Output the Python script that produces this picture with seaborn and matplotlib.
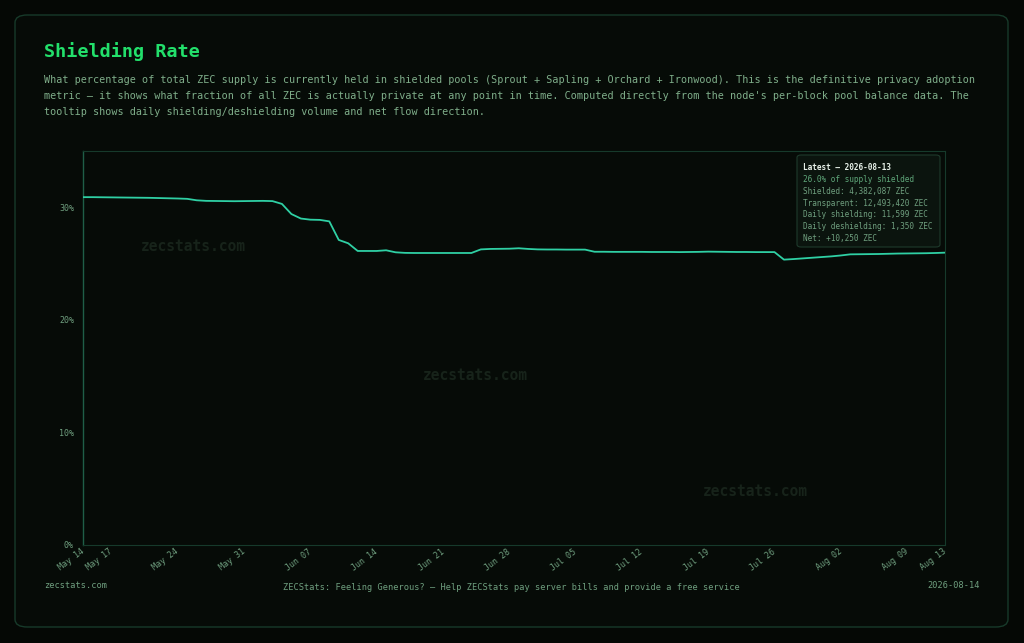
import pandas as pd
import matplotlib.pyplot as plt
import seaborn as sns
from matplotlib.patches import FancyBboxPatch

# --- data ---
start_date = "2026-05-14"
shielded_pct = [
    30.90, 30.90, 30.89, 30.88, 30.87, 30.86, 30.85, 30.84, 30.82, 30.80, 30.78, 30.75,
    30.62, 30.57, 30.56, 30.55, 30.54, 30.55, 30.56, 30.57, 30.55,
    30.30, 29.40, 29.00, 28.90, 28.88, 28.75,
    27.10, 26.80, 26.12, 26.12, 26.12, 26.18,
    26.00, 25.95, 25.94, 25.94, 25.94, 25.94, 25.94, 25.94, 25.94,
    26.26, 26.30, 26.31, 26.32, 26.36, 26.30, 26.26, 26.25, 26.25, 26.24, 26.24, 26.24,
    26.05, 26.05, 26.04, 26.04, 26.04, 26.04, 26.03, 26.03, 26.03, 26.02,
    26.03, 26.04, 26.06, 26.05, 26.04, 26.03, 26.03, 26.02, 26.02, 26.02,
    25.35, 25.40, 25.46, 25.52, 25.58, 25.64, 25.72, 25.82,
    25.83, 25.84, 25.85, 25.87, 25.89, 25.90, 25.91, 25.92, 25.94, 25.97,
]
tick_dates = ["2026-05-14", "2026-05-17", "2026-05-24", "2026-05-31", "2026-06-07",
              "2026-06-14", "2026-06-21", "2026-06-28", "2026-07-05", "2026-07-12",
              "2026-07-19", "2026-07-26", "2026-08-02", "2026-08-09", "2026-08-13"]
tick_labels = ["May 14", "May 17", "May 24", "May 31", "Jun 07", "Jun 14", "Jun 21",
               "Jun 28", "Jul 05", "Jul 12", "Jul 19", "Jul 26", "Aug 02", "Aug 09", "Aug 13"]
y_ticks = [0, 10, 20, 30]
y_labels = ["0%", "10%", "20%", "30%"]

tooltip_title = "Latest \u2014 2026-08-13"
tooltip_lines = [
    "26.0% of supply shielded",
    "Shielded: 4,382,087 ZEC",
    "Transparent: 12,493,420 ZEC",
    "Daily shielding: 11,599 ZEC",
    "Daily deshielding: 1,350 ZEC",
    "Net: +10,250 ZEC",
]

df = pd.DataFrame({"date": pd.date_range(start_date, periods=len(shielded_pct), freq="D"),
                   "pct": shielded_pct})

# --- style ---
BG = "#050805"
CARD = "#060b07"
sns.set_style("dark")
plt.rcParams["font.family"] = ["DejaVu Sans Mono", "DejaVu Sans"]

W, H = 1024, 643
fig = plt.figure(figsize=(W / 100, H / 100), dpi=100, facecolor=BG)


def fx(px):
    return px / W


def fy(py):
    return 1 - py / H


# card border (behind everything)
card = FancyBboxPatch((fx(15), fy(627)), fx(993), 612 / H,
                      boxstyle="round,pad=0,rounding_size=0.012",
                      transform=fig.transFigure, facecolor=CARD, edgecolor="#173a2a",
                      linewidth=1.0, zorder=-5)
fig.patches.append(card)

ax = fig.add_axes([fx(83), fy(545), fx(862), 394 / H], zorder=1)
ax.set_facecolor(CARD)

sns.lineplot(data=df, x="date", y="pct", ax=ax, color="#2fd0a4", linewidth=1.3, zorder=3)

ax.set_xlim(df["date"].iloc[0], df["date"].iloc[-1])
ax.set_ylim(0, 35)
ax.set_yticks(y_ticks)
ax.set_yticklabels(y_labels)
ax.set_xticks(pd.to_datetime(tick_dates))
ax.set_xticklabels(tick_labels, rotation=37, ha="right", va="center", rotation_mode="anchor")
ax.tick_params(axis="both", colors="#1d4a38", labelcolor="#6f9f7f", labelsize=6, length=3, width=0.6)
ax.tick_params(axis="x", pad=1)
ax.set_xlabel("")
ax.set_ylabel("")
ax.grid(False)
for side in ["top", "right", "bottom"]:
    ax.spines[side].set_color("#163a2b")
    ax.spines[side].set_linewidth(0.8)
ax.spines["left"].set_color("#1f5e47")
ax.spines["left"].set_linewidth(1.0)

# watermarks
for wx, wy in [(193, 247), (475, 375), (755, 492)]:
    fig.text(fx(wx), fy(wy), "zecstats.com", color="#17231a", fontsize=10.5,
             fontweight="bold", ha="center", va="center", zorder=2)

# tooltip
tip = FancyBboxPatch((fx(797), fy(247)), fx(143), 92 / H,
                     boxstyle="round,pad=0,rounding_size=0.004",
                     transform=fig.transFigure, facecolor="#0b140e", edgecolor="#1e3a2c",
                     linewidth=0.8, zorder=5)
fig.patches.append(tip)
fig.text(fx(803), fy(167), tooltip_title, color="#e8f2ea", fontsize=5.6,
         fontweight="bold", va="center", zorder=6)
for i, line in enumerate(tooltip_lines):
    fig.text(fx(803), fy(179.5 + i * 11.8), line, color="#5fa77a" if i == 0 else "#6f9f7f",
             fontsize=5.6, va="center", zorder=6)

# header
fig.text(fx(44), fy(52), "Shielding Rate", color="#22e06b", fontsize=13.3,
         fontweight="bold", va="center")
desc = [
    "What percentage of total ZEC supply is currently held in shielded pools (Sprout + Sapling + Orchard + Ironwood). This is the definitive privacy adoption",
    "metric \u2014 it shows what fraction of all ZEC is actually private at any point in time. Computed directly from the node's per-block pool balance data. The",
    "tooltip shows daily shielding/deshielding volume and net flow direction.",
]
for i, line in enumerate(desc):
    fig.text(fx(44), fy(80 + i * 16), line, color="#7fae8a", fontsize=7.3, va="center")

# footer
fig.text(fx(44), fy(586), "zecstats.com", color="#6f9f7f", fontsize=6.2, va="center")
fig.text(fx(511), fy(588),
         "ZECStats: Feeling Generous? \u2014 Help ZECStats pay server bills and provide a free service",
         color="#6f9f7f", fontsize=6.2, ha="center", va="center")
fig.text(fx(980), fy(586), "2026-08-14", color="#6f9f7f", fontsize=6.2, ha="right", va="center")

fig.savefig("out.png", dpi=100, facecolor=BG)
